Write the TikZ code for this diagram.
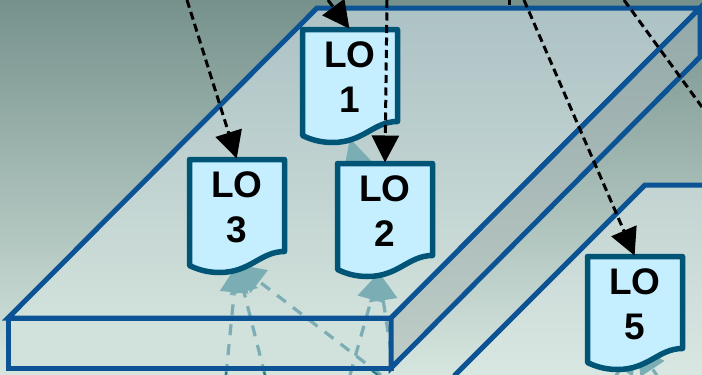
\documentclass[tikz,border=0pt]{standalone}
\usepackage{fontspec}
\setmainfont{Liberation Sans}
\usetikzlibrary{arrows.meta}

\definecolor{bgtop}{HTML}{76918C}
\definecolor{bgmid}{HTML}{A3B8A9}
\definecolor{bgbot}{HTML}{D6E6DF}
\definecolor{slabtop}{HTML}{ADC2C5}
\definecolor{slabbot}{HTML}{D1E1DB}
\definecolor{backtop}{HTML}{C2D3D1}
\definecolor{backbot}{HTML}{DAE8E2}
\definecolor{sidetop}{HTML}{93A8A9}
\definecolor{sidebot}{HTML}{BFCDC7}
\definecolor{slabedge}{HTML}{0B5394}
\definecolor{docedge}{HTML}{005577}
\definecolor{docfill}{HTML}{C5EEFF}
\definecolor{linkpale}{HTML}{7AAEB4}
\definecolor{linkdark}{HTML}{1F7F80}

\pgfdeclarelayer{back}
\pgfsetlayers{back,main}

\tikzset{
  lotext/.style={minimum width=95pt,minimum height=95pt,inner sep=0pt,outer sep=0pt,
    anchor=north,align=center,font=\fontsize{37}{45}\selectfont\bfseries},
  docline/.style={draw=docedge,fill=docfill,line width=5.5pt,line join=round},
  slabline/.style={draw=slabedge,line width=5pt,line join=miter},
  fetch/.style={black,line width=3pt,dash pattern=on 8pt off 4.5pt,
    -{Triangle[length=27pt,width=27pt]},shorten >=1pt},
  uplink/.style={linkpale,line width=3.2pt,dash pattern=on 11pt off 9pt,
    -{Triangle[length=28pt,width=28pt]}}
}

\begin{document}
\begin{tikzpicture}[x=1pt,y=-1pt]
  \useasboundingbox (0,0) rectangle (702,375);

  \node[lotext] (lo1) at (350,29.5) {LO\\1};
  \node[lotext] (lo2) at (385,163.5) {LO\\2};
  \node[lotext] (lo3) at (237,159.5) {LO\\3};
  \node[lotext] (lo5) at (635,256.5) {LO\\5};

  \coordinate (f1) at (328,0);
  \coordinate (f2) at (387,0);
  \coordinate (f3) at (187,0);
  \coordinate (f5) at (524,0);
  \coordinate (g1) at (624,0);
  \coordinate (g2) at (702,107);
  \coordinate (h1) at (509,-2);
  \coordinate (h2) at (509,5);
  \coordinate (a1) at (226,375);
  \coordinate (a2) at (265,375);
  \coordinate (a3) at (381,375);
  \coordinate (b1) at (350,375);
  \coordinate (b2) at (391,352);
  \coordinate (c1) at (591,411);
  \coordinate (c2) at (681,412);

  \begin{pgfonlayer}{back}
    \fill[top color=bgtop,middle color=bgmid,bottom color=bgbot] (0,0) rectangle (702,375);
    % slab behind, lower right
    \draw[slabline,top color=backtop,bottom color=backbot]
      (720,185) -- (645,185) -- (455,375) -- (455,385) -- (720,385);
    % the big slab
    \fill[top color=slabtop,bottom color=slabbot] (8,318) -- (317,8) -- (700,8) -- (391,318) -- cycle;
    \fill[slabbot] (8,318) rectangle (391,368);

    \foreach \from in {a1,a2,a3}
      \draw[uplink] (\from) -- ([yshift=-10pt]lo3.south);
    \foreach \from in {b1,b2}
      \draw[uplink] (\from) -- ([xshift=-6pt,yshift=-14pt]lo2.south);
    \draw[uplink] (lo2.south) -- ([yshift=-14pt]lo1.south);
    \foreach \from in {c1,c2}
      \draw[uplink] (\from) -- ([xshift=2pt,yshift=6pt]lo5.south);

    \draw[slabline] (317,8) -- (700,8) -- (391,318) -- (8,318) -- cycle;
    \draw[slabline] (8,318) rectangle (391,368);
    \draw[slabline,top color=sidetop,bottom color=sidebot]
      (391,318) -- (700,8) -- (700,57) -- (391,368) -- cycle;

    \foreach \from/\to in {226/226,264/265}
      \draw[linkdark,line width=2pt] (\from,372) -- (\to,375);
    \draw[linkdark,line width=2pt] (372,371) -- (378,375);

    \foreach \name in {lo1,lo2,lo3,lo5}
      \draw[docline] (\name.north west) -- (\name.north east) -- ++(0,92)
        .. controls ++(-24,0) and ++(31,0) .. ++(-65,21)
        .. controls ++(-12,0) and ++(8,4) .. ++(-30,-7) -- cycle;
  \end{pgfonlayer}

  \foreach \from/\to in {f1/lo1,f2/lo2,f3/lo3,f5/lo5}
    \draw[fetch] (\from) -- (\to.north);
  \draw[black,line width=3pt,dash pattern=on 8pt off 4.5pt] (g1) -- (g2);
  \draw[black,line width=3pt] (h1) -- (h2);
\end{tikzpicture}
\end{document}
